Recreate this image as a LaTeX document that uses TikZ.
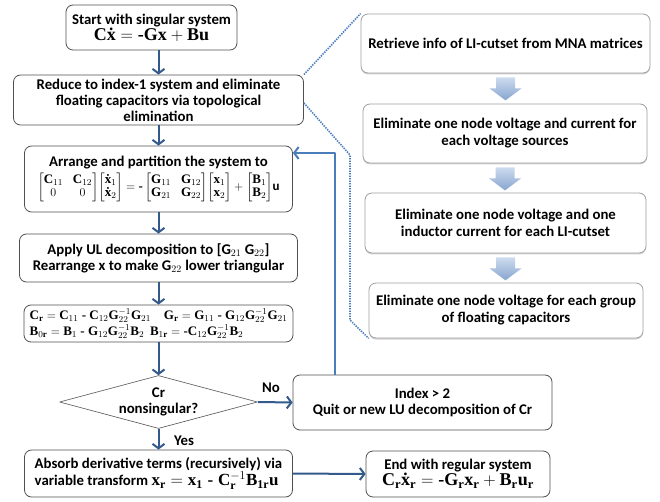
\documentclass[tikz,border=0pt]{standalone}
\usepackage{amsmath}
\usepackage{fontspec}
\setmainfont{Carlito}
\setmathrm{Liberation Serif}
\newfontfamily\tmsfont{Liberation Serif}
\usetikzlibrary{arrows.meta,shapes.geometric,shadows}
\definecolor{flowblue}{RGB}{52,90,140}
\definecolor{loopblue}{RGB}{74,126,187}
\definecolor{boxgray}{RGB}{80,80,80}
\definecolor{fatlight}{RGB}{205,219,238}
\definecolor{fatdark}{RGB}{135,165,208}
\newcommand{\vb}[1]{\text{\tmsfont\bfseries #1}}
\newcommand{\hy}{\text{\tmsfont -}}
\tikzset{
  stepbox/.style={draw=boxgray,line width=.8pt,rounded corners=7pt,fill=white,align=center,
    font=\fontsize{14.8}{16}\selectfont\bfseries,inner sep=2pt},
  sidebox/.style={stepbox,font=\fontsize{14.8}{17}\selectfont\bfseries,draw=gray!75,
    drop shadow={shadow xshift=0pt,shadow yshift=-1.5pt,opacity=.35}},
  flow/.style={draw=flowblue,line width=2pt,-{Straight Barb[length=4.5pt,width=12pt]}},
  fatarrow/.style={top color=fatlight,bottom color=fatdark},
  dots/.style={draw=loopblue,line width=1.6pt,dash pattern=on 1.4pt off 1.1pt},
}
\begin{document}
\begin{tikzpicture}[x=1pt,y=-1pt,line join=round]
  \useasboundingbox (0,0) rectangle (660,502);
  \node[stepbox,minimum width=171pt,minimum height=45pt] (start) at (151.5,27.5)
    {Start with singular system\\ \fontsize{18}{17}\selectfont$\vb{C\.x} = \hy\vb{Gx} + \vb{Bu}$};
  \node[stepbox,minimum width=290pt,minimum height=50pt] (reduce) at (158.5,100)
    {Reduce to index-1 system and eliminate\\ floating capacitors via topological\\ elimination};
  \node[stepbox,minimum width=268pt,minimum height=66pt] (arrange) at (158.5,179)
    {Arrange and partition the system to\\[3pt]
     \fontsize{13}{13}\selectfont$\begin{bmatrix}\vb{C}_{11}&\vb{C}_{12}\\ 0&0\end{bmatrix}\!
     \begin{bmatrix}\vb{\.x}_1\\ \vb{\.x}_2\end{bmatrix} = \hy
     \begin{bmatrix}\vb{G}_{11}&\vb{G}_{12}\\ \vb{G}_{21}&\vb{G}_{22}\end{bmatrix}\!
     \begin{bmatrix}\vb{x}_1\\ \vb{x}_2\end{bmatrix} +
     \begin{bmatrix}\vb{B}_1\\ \vb{B}_2\end{bmatrix}$\textbf{u}};
  \node[stepbox,minimum width=278pt,minimum height=48pt] (apply) at (158.5,258)
    {Apply UL decomposition to [G$_{21}$ G$_{22}$]\\ Rearrange x to make G$_{22}$ lower triangular};
  \node[stepbox,minimum width=269pt,minimum height=37pt,align=left] (reduced) at (158.5,323.5)
    {\fontsize{13}{13}\selectfont$\vb{C}_\vb{r} = \vb{C}_{11} \;\hy\; \vb{C}_{12}\vb{G}_{22}^{-1}\vb{G}_{21}\quad
     \vb{G}_\vb{r} = \vb{G}_{11} \;\hy\; \vb{G}_{12}\vb{G}_{22}^{-1}\vb{G}_{21}$\\
     \fontsize{13}{13}\selectfont$\vb{B}_{0\vb{r}} = \vb{B}_1 \;\hy\; \vb{G}_{12}\vb{G}_{22}^{-1}\vb{B}_2\ \
     \vb{B}_{1\vb{r}} = \hy\vb{C}_{12}\vb{G}_{22}^{-1}\vb{B}_2$};
  \node[draw=boxgray,line width=.6pt,diamond,aspect=3.7,minimum width=198pt,minimum height=53pt,
    inner sep=0pt,align=center,font=\fontsize{14.8}{16}\selectfont\bfseries] (check) at (158.5,402) {Cr\\ nonsingular?};
  \node[stepbox,minimum width=268pt,minimum height=47pt,align=left] (absorb) at (158.5,473.5)
    {Absorb derivative terms (recursively) via\\
     variable transform \fontsize{17}{15}\selectfont$\vb{x}_\vb{r} = \vb{x}_\vb{1} \;\hy\; \vb{C}_\vb{r}^{-1}\vb{B}_{\vb{1r}}\vb{u}$};
  \node[stepbox,minimum width=259pt,minimum height=55pt] (index) at (422.5,402.5)
    {Index > 2\\ Quit or new LU decomposition of Cr};
  \node[stepbox,minimum width=184pt,minimum height=46pt] (finish) at (458,474)
    {End with regular system\\
     \fontsize{18}{16}\selectfont$\vb{C}_\vb{r}\vb{\.x}_\vb{r} = \hy\vb{G}_\vb{r}\vb{x}_\vb{r} + \vb{B}_\vb{r}\vb{u}_\vb{r}$};
  \node[sidebox,minimum width=289pt,minimum height=59pt] (retrieve) at (505.5,43.5)
    {Retrieve info of LI-cutset from MNA matrices};
  \node[sidebox,minimum width=284pt,minimum height=59pt] (elimsrc) at (505,133.5)
    {Eliminate one node voltage and current for\\ each voltage sources};
  \node[sidebox,minimum width=281pt,minimum height=60pt] (elimcut) at (505.5,223)
    {Eliminate one node voltage and one\\ inductor current for each LI-cutset};
  \node[sidebox,minimum width=274pt,minimum height=55pt] (elimcap) at (506,310.5)
    {Eliminate one node voltage for each group\\ of floating capacitors};
  \shade[fatarrow] ([shift={(-9.5,4)}]retrieve.south) -- ++(19,0) -- ++(0,11) -- ++(6.5,0)
    -- ++(-16,12) -- ++(-16,-12) -- ++(6.5,0) -- cycle;
  \shade[fatarrow] ([shift={(-9.5,4)}]elimsrc.south) -- ++(19,0) -- ++(0,11) -- ++(6.5,0)
    -- ++(-16,12) -- ++(-16,-12) -- ++(6.5,0) -- cycle;
  \shade[fatarrow] ([shift={(-9.5,4)}]elimcut.south) -- ++(19,0) -- ++(0,11) -- ++(6.5,0)
    -- ++(-16,12) -- ++(-16,-12) -- ++(6.5,0) -- cycle;
  \node[font=\fontsize{14.8}{16}\selectfont\bfseries] (no) at (271,388) {No};
  \node[font=\fontsize{14.8}{16}\selectfont\bfseries] (yes) at (184,441) {Yes};
  \coordinate (loop) at (335,153);
  \coordinate (bend1) at (350,155);
  \coordinate (bend2) at (350,320);
  \draw[flow] (start.south -| reduce.north) -- (reduce.north);
  \draw[flow] (reduce.south) -- (arrange.north);
  \draw[flow] (arrange.south) -- (apply.north);
  \draw[flow] (apply.south) -- (reduced.north);
  \draw[flow] (reduced.south) -- (check.north);
  \draw[flow] (check.south) -- (absorb.north);
  \draw[flow] (check.east) -- (index.west);
  \draw[flow] (absorb.east) -- (finish.west);
  \draw[flow,draw=loopblue] (index.north -| loop) -- (loop) -- (loop -| arrange.east);
  \draw[dots] (reduce.north east) -- (retrieve.north west);
  \draw[dots] ([yshift=-3pt]reduce.east) -- (bend1) -- (bend2) -- (elimcap.south west);
\end{tikzpicture}
\end{document}
